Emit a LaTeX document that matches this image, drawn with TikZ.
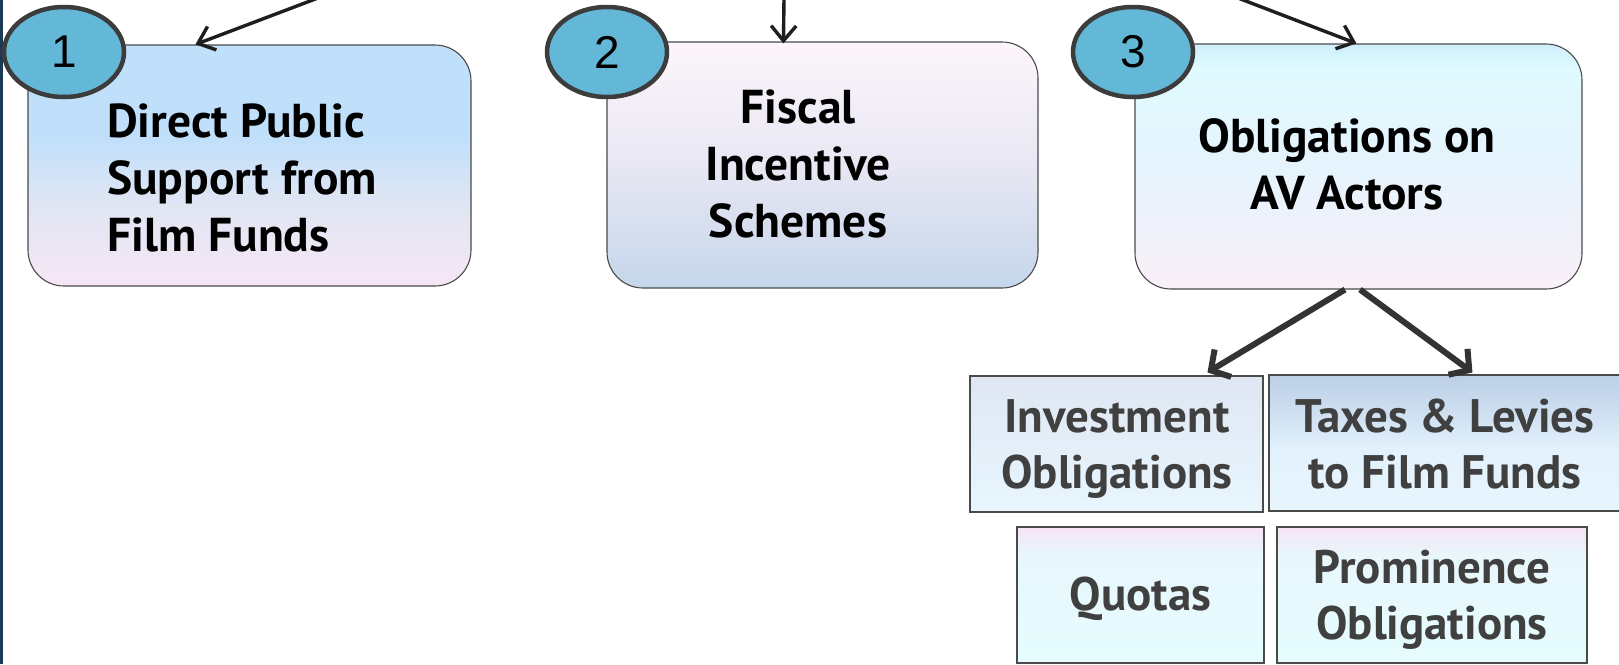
\documentclass[tikz,border=0pt]{standalone}
\usepackage{fontspec}
\setmainfont{PT Sans}
\newfontfamily\numfont{Liberation Sans}
\usetikzlibrary{arrows.meta,calc,shapes.geometric}
\definecolor{navybar}{HTML}{1B3A57}
\definecolor{boxline}{HTML}{4A4A4A}
\definecolor{ovalfill}{HTML}{64B8D7}
\definecolor{ovalline}{HTML}{3C3C3C}
\definecolor{arrowdark}{HTML}{1E1E1E}
\definecolor{arrowthick}{HTML}{333333}
\definecolor{txtgray}{HTML}{404040}
% shading colours
\definecolor{oneTop}{RGB}{192,223,251}
\definecolor{oneMid}{RGB}{224,230,243}
\definecolor{oneBot}{RGB}{247,230,245}
\definecolor{twoTop}{RGB}{253,245,251}
\definecolor{twoMid}{RGB}{232,231,243}
\definecolor{twoBot}{RGB}{197,214,235}
\definecolor{thrTop}{RGB}{205,238,251}
\definecolor{thrHi}{RGB}{224,251,255}
\definecolor{thrMid}{RGB}{229,243,252}
\definecolor{thrBot}{RGB}{250,240,248}
\definecolor{invTop}{RGB}{223,230,242}
\definecolor{invBot}{RGB}{232,246,254}
\definecolor{taxTop}{RGB}{188,207,230}
\definecolor{taxMid}{RGB}{205,222,240}
\definecolor{taxLow}{RGB}{226,241,252}
\definecolor{taxBot}{RGB}{232,245,253}
\definecolor{quoTop}{RGB}{245,228,244}
\definecolor{quoMid}{RGB}{232,247,252}
\definecolor{quoBot}{RGB}{230,252,253}
% vertical shadings: 25bp = bottom of the shape, 75bp = top of the shape
\pgfdeclareverticalshading{shadeone}{100bp}{
  color(0bp)=(oneBot); color(25bp)=(oneBot); color(42bp)=(oneMid);
  color(56bp)=(oneTop); color(100bp)=(oneTop)}
\pgfdeclareverticalshading{shadetwo}{100bp}{
  color(0bp)=(twoBot); color(25bp)=(twoBot); color(50bp)=(twoMid);
  color(75bp)=(twoTop); color(100bp)=(twoTop)}
\pgfdeclareverticalshading{shadethree}{100bp}{
  color(0bp)=(thrBot); color(25bp)=(thrBot); color(50bp)=(thrMid);
  color(70bp)=(thrHi); color(75bp)=(thrTop); color(100bp)=(thrTop)}
\pgfdeclareverticalshading{shadeinv}{100bp}{
  color(0bp)=(invBot); color(25bp)=(invBot); color(75bp)=(invTop); color(100bp)=(invTop)}
\pgfdeclareverticalshading{shadetax}{100bp}{
  color(0bp)=(taxBot); color(25bp)=(taxBot); color(48bp)=(taxLow);
  color(62bp)=(taxMid); color(75bp)=(taxTop); color(100bp)=(taxTop)}
\pgfdeclareverticalshading{shadequo}{100bp}{
  color(0bp)=(quoBot); color(25bp)=(quoBot); color(64bp)=(quoMid);
  color(75bp)=(quoTop); color(100bp)=(quoTop)}
\begin{document}
\begin{tikzpicture}[x=1pt,y=-1pt,
  bigbox/.style={draw=boxline, line width=1.1pt, rounded corners=36pt, inner sep=0pt},
  smallbox/.style={draw=boxline, line width=1.1pt, inner sep=0pt},
  numoval/.style={ellipse, draw=ovalline, line width=4.5pt, fill=ovalfill,
    minimum width=120pt, minimum height=90pt, inner sep=0pt,
    font=\numfont\fontsize{46}{46}\selectfont},
  toptext/.style={inner sep=0pt, font=\bfseries\fontsize{47.5}{57}\selectfont},
  bottext/.style={inner sep=0pt, text=txtgray, font=\bfseries\fontsize{47}{56.5}\selectfont},
  thinarrow/.style={draw=arrowdark, line width=3.4pt, -{Straight Barb[length=15pt,width=25pt]}},
  thickarrow/.style={draw=arrowthick, line width=6pt, -{Straight Barb[length=14pt,width=32pt]}}
]
\useasboundingbox (0,0) rectangle (1619,664);
\clip (0,0) rectangle (1619,664);
\fill[white] (0,0) rectangle (1619,664);
\fill[navybar] (0,0) rectangle (2.5,664);

% main boxes
\node[bigbox, minimum width=443pt, minimum height=241pt, shading=shadeone] (b1) at (249.5,165.5) {};
\node[bigbox, minimum width=431pt, minimum height=246pt, shading=shadetwo] (b2) at (822.5,165) {};
\node[bigbox, minimum width=447pt, minimum height=245pt, shading=shadethree] (b3) at (1358.5,166.5) {};

% texts of main boxes
\node[toptext, anchor=base west] (t1) at (107,137)
  {\begin{tabular}[t]{@{}l@{}}Direct Public\\Support from\\Film Funds\end{tabular}};
\node[toptext, anchor=base] (t2) at (798,123)
  {\begin{tabular}[t]{@{}c@{}}Fiscal\\Incentive\\Schemes\end{tabular}};
\node[toptext, anchor=base] (t3) at (1347,152)
  {\begin{tabular}[t]{@{}c@{}}Obligations on\\AV Actors\end{tabular}};

% number ovals
\node[numoval] (n1) at (64,52) {1};
\node[numoval] (n2) at (607,52) {2};
\node[numoval] (n3) at (1133,52) {3};

% sub boxes
\node[smallbox, minimum width=293pt, minimum height=136pt, shading=shadeinv] (inv) at (1116.5,444) {};
\node[smallbox, minimum width=371pt, minimum height=136pt, shading=shadetax] (tax) at (1454.5,443) {};
\node[smallbox, minimum width=247pt, minimum height=136pt, shading=shadequo] (quo) at (1140.5,595) {};
\node[smallbox, minimum width=310pt, minimum height=136pt, shading=shadequo] (pro) at (1432,595) {};

\node[bottext, anchor=base] (tinv) at (1117,432)
  {\begin{tabular}[t]{@{}c@{}}Investment\\Obligations\end{tabular}};
\node[bottext, anchor=base] (ttax) at (1445,432)
  {\begin{tabular}[t]{@{}c@{}}Taxes \& Levies\\to Film Funds\end{tabular}};
\node[bottext, anchor=base] (tquo) at (1140.5,610) {Quotas};
\node[bottext, anchor=base] (tpro) at (1432,583)
  {\begin{tabular}[t]{@{}c@{}}Prominence\\Obligations\end{tabular}};

% incoming arrows from above
\coordinate (s1) at (318,-2);
\coordinate (s2) at (784,-2);
\coordinate (s3) at (1238,-2);
\draw[thinarrow] (s1) -- ($(b1.north west)+(168,0)$);
\draw[thinarrow] (s2) -- ($(b2.north west)+(177,2)$);
\draw[thinarrow] (s3) -- ($(b3.north west)+(222,0)$);

% arrows to sub boxes
\draw[thickarrow] ($(b3.south)+(-13.5,0)$) -- ($(inv.north west)+(238,-3)$);
\draw[thickarrow] ($(b3.south)+(1.5,0)$) -- ($(tax.north west)+(204,-2)$);
\end{tikzpicture}
\end{document}
